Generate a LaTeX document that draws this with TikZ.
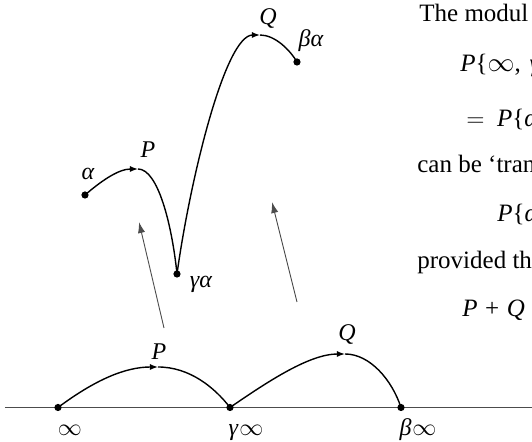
\documentclass[tikz,border=0pt]{standalone}
\usepackage{fontspec}
\setmainfont{Liberation Serif}
\usetikzlibrary{arrows.meta}
\begin{document}
\begin{tikzpicture}[x=0.5pt,y=-0.5pt,
  dot/.style={circle,fill=black,inner sep=0pt,minimum size=3.6pt},
  curve/.style={line width=0.7pt,black},
  midtip/.style={-{Latex[length=4pt,width=3pt]}},
  lift/.style={draw=black!70,line width=0.45pt,-{Latex[length=5.5pt,width=3.6pt]}},
  axisline/.style={draw=black!70,line width=0.45pt},
  lbl/.style={font=\fontsize{12}{14}\selectfont\itshape,inner sep=0pt,anchor=base},
  txt/.style={font=\fontsize{12.5}{14}\selectfont,inner sep=0pt,anchor=base west}]
\useasboundingbox (0,0) rectangle (532,442);
\clip (0,0) rectangle (532,442);

% axis
\coordinate (axL) at (5,407.5);
\coordinate (axR) at (532,407.5);
\draw[axisline] (axL) -- (axR);

% lower points
\node[dot] (inf) at (58,407.5) {};
\node[dot] (ginf) at (230,407.5) {};
\node[dot] (binf) at (401,407.5) {};
\coordinate (pkP) at (158,367);
\coordinate (pkQ) at (345,354);

\draw[curve,midtip] (inf.center) .. controls (95,380) and (125,367) .. (pkP);
\draw[curve] (pkP) .. controls (190,367) and (215,388) .. (ginf.center);
\draw[curve,midtip] (ginf.center) .. controls (270,380) and (310,354) .. (pkQ);
\draw[curve] (pkQ) .. controls (370,354) and (392,380) .. (binf.center);

\node[lbl,font=\fontsize{12}{14}\selectfont] (linf) at (70,436) {$\infty$};
\node[lbl] (lginf) at (246,436) {γ\kern0.06em$\infty$};
\node[lbl] (lbinf) at (418,436) {β\kern0.04em$\infty$};
\node[lbl] (lP) at (159,360) {P};
\node[lbl] (lQ) at (347,341) {Q};

% upper points
\node[dot] (al) at (85,195) {};
\node[dot] (gal) at (177,274) {};
\node[dot] (bal) at (297,62) {};
\coordinate (upP) at (138,169);
\coordinate (upQ) at (260,35);

\draw[curve,midtip] (al.center) .. controls (100,182) and (118,169) .. (upP);
\draw[curve] (upP) .. controls (158,169) and (172,225) .. (gal.center);
\draw[curve,midtip] (gal.center) .. controls (190,180) and (225,35) .. (upQ);
\draw[curve] (upQ) .. controls (275,35) and (290,50) .. (bal.center);

\node[lbl] (lal) at (88,180) {α};
\node[lbl] (luP) at (148,158) {P};
\node[lbl] (lgal) at (201,288) {γα};
\node[lbl] (luQ) at (268,25) {Q};
\node[lbl] (lbal) at (311,47) {βα};

% lifting arrows
\coordinate (a1s) at (164,328);
\coordinate (a1e) at (139,222);
\coordinate (a2s) at (297,302);
\coordinate (a2e) at (272,202);
\draw[lift] (a1s) -- (a1e);
\draw[lift] (a2s) -- (a2e);

% text at right
\node[txt] (t1) at (419,22) {The modul};
\node[txt] (t2) at (460,72) {\textit{P}\{\scalebox{1.12}{$\infty$},\hspace{0.35em}\textit{γ}};
\node[txt] (t3) at (466,127) {$=$\hspace{0.5em}\textit{P}\{\textit{α}};
\node[txt] (t4) at (417,173) {can be ‘tran};
\node[txt] (t5) at (497,222) {\textit{P}\{\textit{α}};
\node[txt] (t6) at (417,269) {provided th};
\node[txt] (t7) at (462,317) {\textit{P}\hspace{0.3em}+\hspace{0.3em}\textit{Q}};
\end{tikzpicture}
\end{document}
